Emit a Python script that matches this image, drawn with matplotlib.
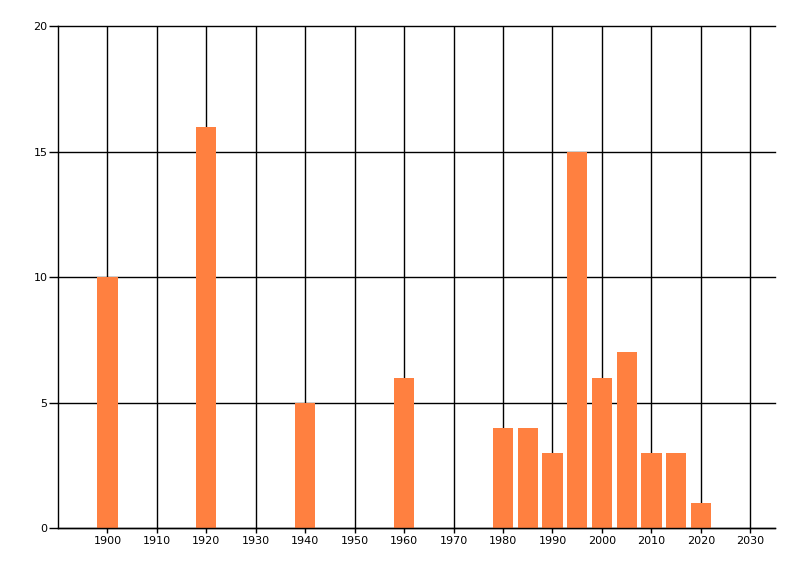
import matplotlib
matplotlib.use("Agg")
import matplotlib.pyplot as plt

years = [1900, 1920, 1940, 1960, 1980, 1985, 1990, 1995, 2000, 2005, 2010, 2015, 2020]
counts = [10, 16, 5, 6, 4, 4, 3, 15, 6, 7, 3, 3, 1]
x_ticks = list(range(1900, 2031, 10))
y_ticks = [0, 5, 10, 15, 20]

fig = plt.figure(figsize=(8, 5.76), dpi=100)
ax = fig.add_axes([58 / 800, 1 - 528 / 576, (775 - 58) / 800, (528 - 26.5) / 576])

ax.bar(years, counts, width=4.1, color="#FF8040", zorder=3)

ax.set_xlim(1890, 2035)
ax.set_ylim(0, 20)
ax.set_xticks(x_ticks)
ax.set_yticks(y_ticks)
ax.grid(True, color="black", linewidth=1, zorder=1)
# keep the top gridline from being clipped at the axes edge
for line in ax.get_xgridlines() + ax.get_ygridlines():
    line.set_clip_on(False)

for side in ["top", "right"]:
    ax.spines[side].set_visible(False)
for side in ["left", "bottom"]:
    ax.spines[side].set_linewidth(1)
    ax.spines[side].set_zorder(4)

ax.tick_params(axis="y", length=6.5, width=1, labelsize=8, pad=1)
ax.tick_params(axis="x", length=3.5, width=1, labelsize=8, pad=2)

fig.savefig("out.png", dpi=100)
